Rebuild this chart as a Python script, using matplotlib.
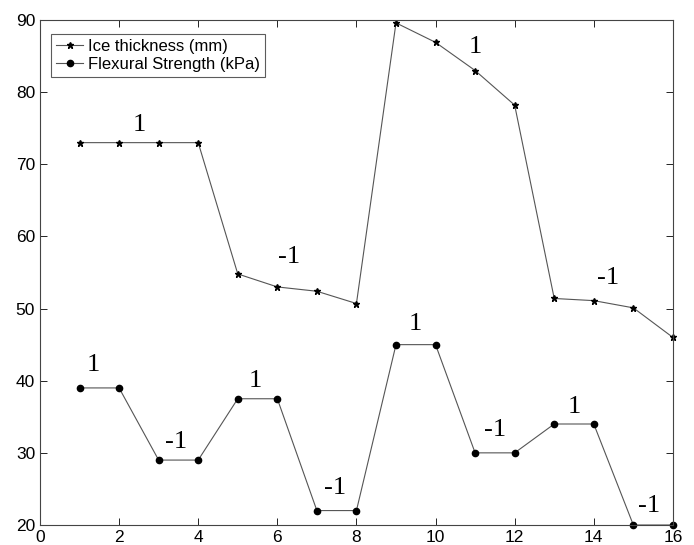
import matplotlib
matplotlib.use('Agg')
import matplotlib.pyplot as plt
import numpy as np

x = np.arange(1, 17)
ice_thickness = [73, 73, 73, 73, 54.8, 53.0, 52.4, 50.7, 89.6, 86.9, 83.0, 78.2, 51.4, 51.1, 50.1, 46.0]
flexural = [39, 39, 29, 29, 37.5, 37.5, 22, 22, 45, 45, 30, 30, 34, 34, 20, 20]

# sign labels (x, y, text)
ice_labels = [(2.5, 75.4, '1'), (6.3, 57.1, '-1'), (11.0, 86.3, '1'), (14.35, 54.2, '-1')]
flex_labels = [(1.35, 42.2, '1'), (3.45, 31.5, '-1'), (5.45, 40.0, '1'), (7.45, 25.1, '-1'),
               (9.5, 47.8, '1'), (11.5, 33.2, '-1'), (13.5, 36.3, '1'), (15.4, 22.6, '-1')]

plt.rcParams['font.family'] = ['Liberation Sans', 'DejaVu Sans']

fig = plt.figure(figsize=(6.94, 5.45), dpi=100)
ax = fig.add_axes([0.0576, 0.0367, 0.912, 0.9266])

ax.plot(x, ice_thickness, color='#555555', lw=0.8, marker='*', ms=5,
        mfc='black', mec='black', label='Ice thickness (mm)', clip_on=False)
ax.plot(x, flexural, color='#555555', lw=0.8, marker='o', ms=4.5,
        mfc='black', mec='black', label='Flexural Strength (kPa)', clip_on=False)

for lx, ly, t in ice_labels + flex_labels:
    ax.text(lx, ly, t, fontsize=19, family='Liberation Serif', ha='center', va='center')

ax.set_xlim(0, 16)
ax.set_ylim(20, 90)
ax.set_xticks(range(0, 17, 2))
ax.set_yticks(range(20, 91, 10))
ax.tick_params(direction='in', top=True, right=True, labelsize=12.5, length=5, width=0.6)
for s in ax.spines.values():
    s.set_color('#444444')
    s.set_linewidth(0.8)

leg = ax.legend(loc='upper left', bbox_to_anchor=(0.018, 0.973), fontsize=12,
                frameon=True, fancybox=False, handlelength=1.6, handletextpad=0.3,
                borderpad=0.3, labelspacing=0.2, borderaxespad=0)
leg.get_frame().set_edgecolor('#333333')
leg.get_frame().set_linewidth(0.8)

fig.savefig('out.png', dpi=100)
